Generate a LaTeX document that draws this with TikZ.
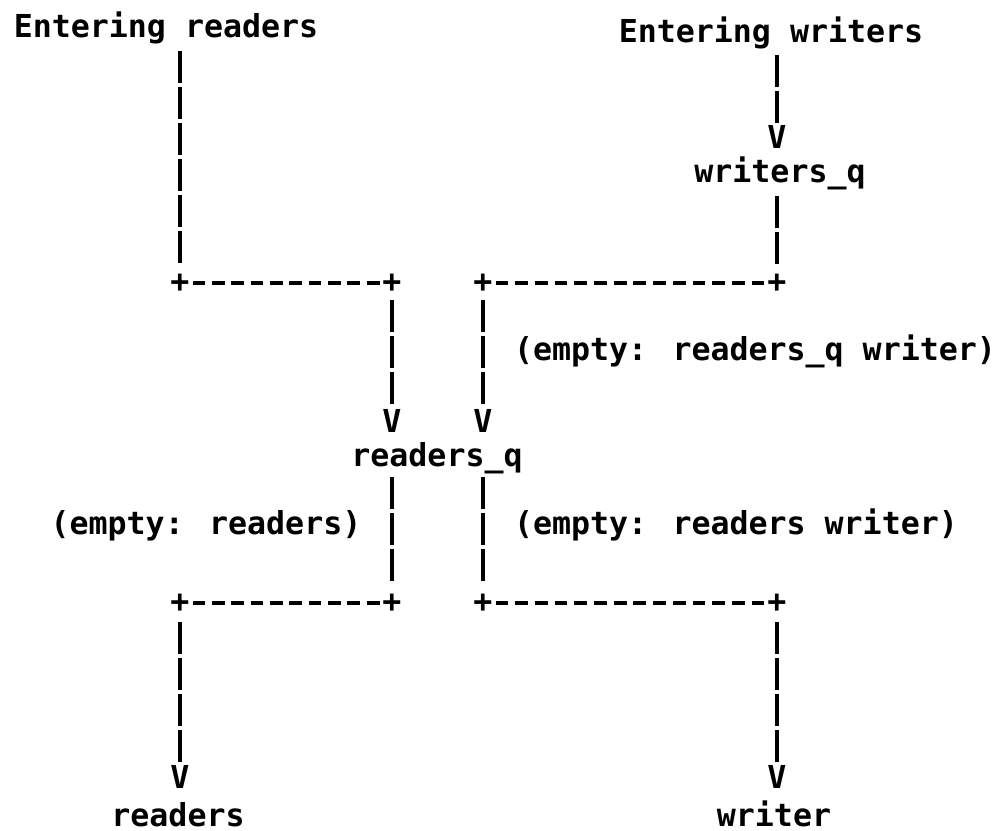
\documentclass[tikz,border=0pt]{standalone}
\usepackage{fontspec}
\newfontfamily\plotfont{DejaVu Sans Mono}
\begin{document}
\begin{tikzpicture}[x=0.5pt,y=-0.5pt,
  every node/.style={inner sep=0pt, outer sep=0pt,
    font=\plotfont\bfseries\fontsize{15.8pt}{19pt}\selectfont},
  txt/.style={anchor=base},
  junction/.style={},
  arrowv/.style={},
  vbar/.style={line width=1.8pt, dash pattern=on 16pt off 2pt},
  hbar/.style={line width=1.9pt, dash pattern=on 6.4pt off #1,
    shorten <=6.25pt, shorten >=6.25pt},
  hbar/.default=3.28pt,
]
\fill[white] (0,0) rectangle (993,831);
\useasboundingbox (0,0) rectangle (993,831);

% labels
\node[txt] (er) at (166,37) {Entering readers};
\node[txt] (ew) at (771,42) {Entering writers};
\node[txt] (wq) at (780,182) {writers\string_q};
\node[txt, anchor=base west] (e1) at (514,360) {(empty: readers\string_q writer)};
\node[txt] (rq) at (437,466) {readers\string_q};
\node[txt] (e2) at (206,534) {(empty: readers)};
\node[txt, anchor=base west] (e3) at (514,534) {(empty: readers writer)};
\node[txt] (rd) at (178,826) {readers};
\node[txt] (wr) at (774,826) {writer};

% junctions
\node[junction] (c1) at (180,283) {+};
\node[junction] (c2) at (392,283) {+};
\node[junction] (c3) at (483,283) {+};
\node[junction] (c4) at (777,283) {+};
\node[junction] (c5) at (180,603) {+};
\node[junction] (c6) at (392,603) {+};
\node[junction] (c7) at (483,603) {+};
\node[junction] (c8) at (777,603) {+};

% arrow heads
\node[arrowv] (v1) at (777,137) {V};
\node[arrowv] (v2) at (392,421) {V};
\node[arrowv] (v3) at (483,421) {V};
\node[arrowv] (v4) at (180,777) {V};
\node[arrowv] (v5) at (777,777) {V};

% vertical runs
\draw[vbar, shorten <=7pt, shorten >=10pt] (c1 |- er.base) -- (c1.center);
\draw[vbar, shorten <=6.5pt, shorten >=7pt] (v1 |- ew.base) -- (v1.center);
\draw[vbar, shorten <=7pt, shorten >=9.5pt] (c4 |- wq.base) -- (c4.center);
\draw[vbar, shorten <=8.5pt, shorten >=8pt] (c2.center) -- (v2.center);
\draw[vbar, shorten <=8.5pt, shorten >=8pt] (c3.center) -- (v3.center);
\draw[vbar, shorten <=5.5pt, shorten >=11pt] (c6 |- rq.base) -- (c6.center);
\draw[vbar, shorten <=5.5pt, shorten >=11pt] (c7 |- rq.base) -- (c7.center);
\draw[vbar, shorten <=9.5pt, shorten >=7.5pt] (c5.center) -- (v4.center);
\draw[vbar, shorten <=9.5pt, shorten >=7.5pt] (c8.center) -- (v5.center);

% horizontal runs
\draw[hbar] (c1.center) -- (c2.center);
\draw[hbar] (c5.center) -- (c6.center);
\draw[hbar=3.45pt] (c3.center) -- (c4.center);
\draw[hbar=3.45pt] (c7.center) -- (c8.center);
\end{tikzpicture}
\end{document}
